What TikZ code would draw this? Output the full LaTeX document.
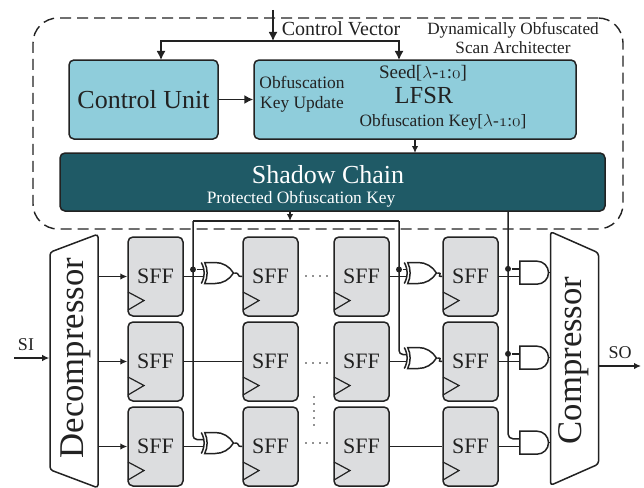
\documentclass[tikz,border=0pt]{standalone}
\usepackage{fontspec}
\setmainfont{Liberation Serif}
\usepackage{tikz}
\usetikzlibrary{arrows.meta,shapes.geometric,shapes.gates.logic.US}
\definecolor{lightbox}{HTML}{8FCDDB}
\definecolor{darkbox}{HTML}{1F5A66}
\definecolor{flopgray}{HTML}{DCDDDF}
\definecolor{wire}{HTML}{222222}
\newcommand{\fsz}[1]{\fontsize{#1}{#1}\selectfont}
\newcommand{\osn}[1]{{\usefont{OML}{cmm}{m}{it}#1}}
\newcommand{\lam}{$\lambda$-\osn{1}:\osn{0}}

\begin{document}
\begin{tikzpicture}[
    x=1pt, y=-1pt,
    color=wire,
    line width=1.5pt,
    box/.style={rectangle, draw=wire, fill=lightbox, rounded corners=5pt, line width=1.5pt},
    flop/.style={rectangle, draw=wire, fill=flopgray, rounded corners=5pt, minimum width=55pt, minimum height=79pt, inner sep=0pt, font=\fsz{22}},
    arrow/.style={-{Latex[length=7pt,width=6.5pt]}},
    bigarrow/.style={-{Latex[length=9pt,width=9pt]}},
    coder/.style={trapezium, draw=wire, fill=white, rounded corners=3pt, minimum width=254pt, minimum height=48pt, inner sep=0pt, trapezium stretches=true, trapezium angle=61, rotate=90, font=\fsz{34.7}},
    dot/.style={circle, fill=wire, inner sep=0pt, minimum size=6pt},
    xorgate/.style={xor gate US, draw=wire, logic gate inputs=nn, minimum height=20pt, minimum width=25pt, inner sep=0pt},
    andgate/.style={and gate US, draw=wire, logic gate inputs=nn, minimum height=23pt, minimum width=22pt, inner sep=0pt},
    clk/.style={line width=1.2pt}
]
\useasboundingbox (0,0) rectangle (644,487);

% outer frame
\node[draw=wire, dash pattern=on 11pt off 6pt, rounded corners=25pt, line width=1.4pt, minimum width=590pt, minimum height=211pt, inner sep=0pt] (frame) at (328,123.5) {};
\coordinate (ctrlin) at (273,10);
\coordinate (ctrlsplit) at (273,41);

% blocks
\node[box, minimum width=149pt, minimum height=79pt, font=\fsz{26}] (cu) at (143.5,99.5) {Control Unit};
\node[box, minimum width=322pt, minimum height=79pt] (lfsr) at (415,99.5) {};
\node[box, fill=darkbox, minimum width=545pt, minimum height=58pt] (shadow) at (332.5,182) {};

\node[font=\fsz{20}] (ctrltxt) at (341,29) {Control Vector};
\node[font=\fsz{17.2}, align=center] (arch) at (513,38) {Dynamically Obfuscated\\[2pt]Scan Architecter};
\node[font=\fsz{17.4}, align=center] (upd) at (302,94) {Obfuscation\\[3pt]Key Update};
\node[font=\fsz{19}] (seed) at (423,73) {Seed[\lam]};
\node[font=\fsz{24.5}] (lfsrtxt) at (424,96) {LFSR};
\node[font=\fsz{17.3}] (keytxt) at (443,122) {Obfuscation Key[\lam]};
\node[font=\fsz{26}, text=white] (shadowtxt) at (328,175) {Shadow Chain};
\node[font=\fsz{17.4}, text=white] (prottxt) at (301,199) {Protected Obfuscation Key};

% scan flops
\foreach \c/\x in {1/155.5, 2/270.5, 3/361.5, 4/470.5}
  \foreach \r/\y in {1/276.5, 2/361.5, 3/446.5}
  {
    \node[flop] (s\c\r) at (\x,\y) {SFF};
    \draw[clk] (\x-27.5,\y+15.5) -- ++(16,8.5) -- ++(-16,9.5);
  }

% compressors
\node[coder] (dec) at (74,361) {\phantom{Decompressor}};
\node[coder, shape border rotate=180] (com) at (574.5,358.5) {\phantom{Compressor}};
\node[rotate=90, font=\fsz{34.7}] (dectxt) at (76,358) {Decompressor};
\node[rotate=90, font=\fsz{34.7}] (comtxt) at (574,360.5) {Compressor};
\node[font=\fsz{18}] (si) at (26,345) {SI};
\node[font=\fsz{18}] (so) at (620,353) {SO};
\coordinate (siin) at (14,358);
\coordinate (soout) at (641,366);

% gates
\node[xorgate, anchor=input 2] (xa) at (203,276.5) {};
\node[xorgate, anchor=input 2] (xb) at (406,276.5) {};
\node[xorgate, anchor=input 2] (xc) at (406,361.5) {};
\node[xorgate, anchor=input 2] (xd) at (203,446.5) {};
\node[andgate, anchor=input 2] (aa) at (519,276.5) {};
\node[andgate, anchor=input 2] (ab) at (519,361.5) {};
\node[andgate, anchor=input 2] (ac) at (519,446.5) {};

% junctions
\coordinate (keyl) at (193,221);
\coordinate (keym) at (290,221);
\coordinate (keyr) at (399,221);
\coordinate (keys) at (508,211);
\node[dot] (da) at (keyl |- xa.input 1) {};
\node[dot] (db) at (keyr |- xb.input 1) {};
\node[dot] (dc) at (keys |- aa.input 1) {};
\node[dot] (dd) at (keys |- ab.input 1) {};

% top wires
\draw[bigarrow] (ctrlin) -- (ctrlsplit);
\draw[bigarrow] (ctrlsplit) -| (161,60);
\draw[bigarrow] (ctrlsplit) -| (399,60);
\draw[bigarrow] (cu.east) -- (lfsr.west);
\draw[arrow] (415,139) -- (415,153);
\draw[arrow] (shadow.south -| keym) -- (keym);

% key wires
\draw (keyl) -- (keyr);
\draw[rounded corners=4pt] (keyl) -- (xd.input 1 -| keyl) -- (xd.input 1);
\draw[rounded corners=4pt] (keyr) -- (xc.input 1 -| keyr) -- (xc.input 1);
\draw (da) -- (xa.input 1);
\draw (db) -- (xb.input 1);
\draw[rounded corners=5pt] (keys) -- (ac.input 1 -| keys) -- (ac.input 1);
\draw (dc) -- (aa.input 1);
\draw (dd) -- (ab.input 1);

% scan wires
\foreach \r in {1,2,3}
  \draw[arrow] (dec.south |- s1\r.west) -- (s1\r.west);
\draw (s11.east) -- (xa.input 2);
\draw (xa.output) .. controls +(7,0) and +(-7,0) .. (s21.west);
\draw (s31.east) -- (xb.input 2);
\draw (xb.output) .. controls +(7,0) and +(-7,0) .. (s41.west);
\draw (s12.east) -- (s22.west);
\draw (s32.east) -- (xc.input 2);
\draw (xc.output) .. controls +(7,0) and +(-7,0) .. (s42.west);
\draw (s13.east) -- (xd.input 2);
\draw (xd.output) .. controls +(7,0) and +(-7,0) .. (s23.west);
\draw (s33.east) -- (s43.west);
\foreach \r/\g in {1/aa,2/ab,3/ac}
  \draw (s4\r.east) -- (\g.input 2);
\foreach \g in {aa,ab,ac}
  \draw (\g.output) -- (com.north |- \g.output);

\draw[arrow] (siin) -- (dec.north |- siin);
\draw[arrow] (com.south |- soout) -- (soout);

% dots between columns
\foreach \y in {276,363,443}
  \foreach \x in {306,313,320,327}
    \fill (\x,\y) circle (0.9pt);
\foreach \y in {397,404,411,418,425}
  \fill (314,\y) circle (0.9pt);
\end{tikzpicture}
\end{document}
